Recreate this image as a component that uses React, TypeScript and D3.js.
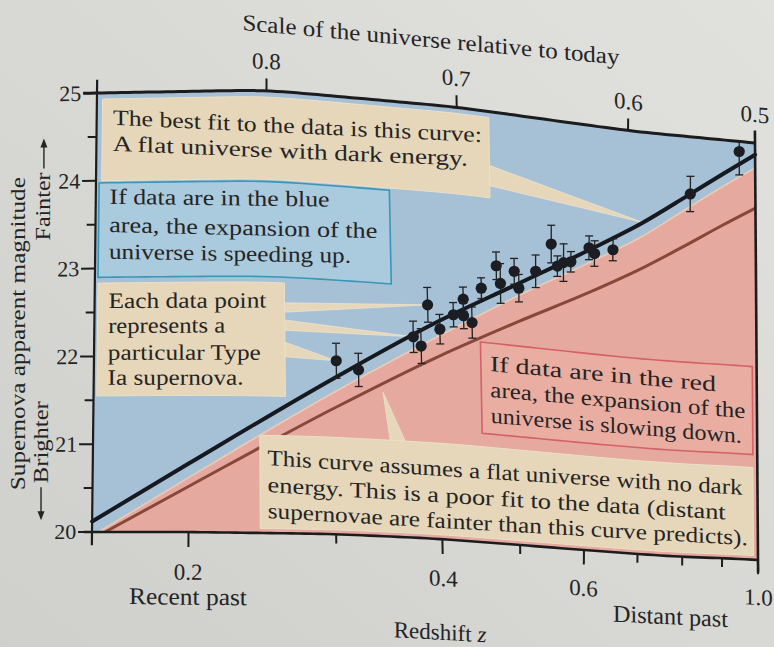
import React from "react";
import * as d3 from "d3";

// ---- model curves: apparent magnitude vs. redshift ----
const darkEnergyZ = [0.15, 0.2, 0.3, 0.4, 0.5, 0.6, 0.7, 0.8, 0.9, 1.0];
const darkEnergyMag = [20.12, 20.78, 21.78, 22.5, 23.04, 23.52, 23.93, 24.28, 24.59, 24.86];
const matterOnlyZ = [0.156, 0.2, 0.3, 0.4, 0.5, 0.6, 0.7, 0.8, 0.9, 1.0];
const matterOnlyMag = [20.0, 20.52, 21.44, 22.1, 22.6, 23.02, 23.39, 23.7, 23.98, 24.22];
// border between accelerating (blue) and decelerating (red) expansion
const coastingZ = [0.153, 0.2, 0.3, 0.4, 0.5, 0.6, 0.7, 0.8, 0.9, 1.0];
const coastingMag = [20.0, 20.62, 21.62, 22.33, 22.9, 23.37, 23.77, 24.13, 24.44, 24.7];

// ---- Type Ia supernovae ----
const snZ = [0.302, 0.321, 0.374, 0.382, 0.39, 0.403, 0.419, 0.431, 0.431, 0.441, 0.453, 0.472, 0.477,
  0.495, 0.501, 0.524, 0.546, 0.555, 0.564, 0.575, 0.603, 0.612, 0.643, 0.812, 0.95];
const snMag = [21.98, 21.89, 22.31, 22.21, 22.69, 22.42, 22.6, 22.79, 22.6, 22.53, 22.94, 23.22, 23.02,
  23.18, 22.99, 23.21, 23.55, 23.3, 23.35, 23.37, 23.56, 23.5, 23.57, 24.32, 24.88];
const snErr = [0.2, 0.19, 0.18, 0.2, 0.2, 0.17, 0.14, 0.14, 0.15, 0.18, 0.12, 0.16, 0.23,
  0.15, 0.16, 0.19, 0.22, 0.12, 0.22, 0.12, 0.14, 0.15, 0.13, 0.21, 0.28];

// ---- axes ----
const redshiftTicks = [0.2, 0.3, 0.4, 0.5, 0.6, 0.7, 0.8, 0.9, 1.0];
const redshiftLabels = ["0.2", "0.4", "0.6", "1.0"];
const scaleTicks = [0.8, 0.7, 0.6, 0.5];
const magTicks = [20, 20.5, 21, 21.5, 22, 22.5, 23, 23.5, 24, 24.5, 25];

type Pt = [number, number];

// data -> unit plot coordinates
const u = d3.scaleLog().domain([0.15, 1]).range([0, 1]);
const w = d3.scaleLinear().domain([25, 20]).range([0, 1]);

// the printed page is slightly tilted and bowed: frame edges on the page
function edge(domain: number[], range: number[]) {
  const lin = d3.scaleLinear().domain(domain).range(range);
  const smooth = d3.interpolateBasis(d3.range(0, 1.0001, 0.05).map((t) => lin(t)));
  return (t: number) => (t < 0 || t > 1 ? lin(t) : smooth(t));
}
const topU = [0, ...scaleTicks.map((a) => u(1 / a - 1))];
const botU = [0, ...redshiftTicks.map((z) => u(z))];
const topX = edge(topU, [97, 266, 456, 630, 755]);
const topY = edge(topU, [93, 90, 107, 131, 143]);
const botX = edge(botU, [92, 188, 336, 443, 520, 584, 638, 682, 722, 758]);
const botY = edge(botU, [532, 532, 534, 539, 545, 550, 554, 557, 558, 560]);

function warp(uu: number, ww: number): Pt {
  const xt = topX(uu), xb = botX(uu), yt = topY(uu), yb = botY(uu);
  return [xt + (xb - xt) * ww, yt + (yb - yt) * ww];
}
const P = (z: number, m: number): Pt => warp(u(z), w(m));

// short labels: follow the local slope of the page
function place(uu: number, ww: number) {
  const [x0, y0] = warp(uu, ww);
  const [x1, y1] = warp(uu + 0.01, ww);
  const ang = (Math.atan2(y1 - y0, x1 - x0) * 180) / Math.PI;
  return `translate(${x0.toFixed(2)},${y0.toFixed(2)}) skewY(${ang.toFixed(3)})`;
}

function uAtX(target: number, ww: number) {
  let lo = -0.6, hi = 1.6;
  for (let i = 0; i < 40; i++) {
    const mid = (lo + hi) / 2;
    if (warp(mid, ww)[0] < target) lo = mid;
    else hi = mid;
  }
  return (lo + hi) / 2;
}
// long lines: baseline runs along the chord of the page curve;
// k = 0 anchors the start at ua, 0.5 the middle. Text is then drawn start-anchored.
function chord(ua: number, ww: number, len: number, k = 0, wEnd = ww) {
  const xa = warp(ua, ww)[0];
  const s = warp(uAtX(xa - k * len, ww), ww);
  const e = warp(uAtX(xa + (1 - k) * len, wEnd), wEnd);
  const ang = (Math.atan2(e[1] - s[1], e[0] - s[0]) * 180) / Math.PI;
  return `translate(${s[0].toFixed(2)},${s[1].toFixed(2)}) skewY(${ang.toFixed(3)})`;
}

const smoothLine = d3.line<Pt>().curve(d3.curveMonotoneX);
const straight = d3.line<Pt>();
const seg = (a: Pt, b: Pt) => straight([a, b]) as string;

function strip(u0: number, u1: number, ww: number, n = 60): Pt[] {
  return d3.range(n + 1).map((i) => warp(u0 + ((u1 - u0) * i) / n, ww));
}
function quad(u0: number, u1: number, w0: number, w1: number) {
  const pts = [...strip(u0, u1, w0, 30), ...strip(u0, u1, w1, 30).reverse()];
  return straight(pts) + "Z";
}

const TAN = "#e6d7ba";

type Box = {
  u0: number; u1: number; w0: number; w1: number; fill: string; stroke?: string;
  tu: number; lines: [string, number, number][];
};
const boxes: Box[] = [
  { u0: 0.009, u1: 0.597, w0: 0.014, w1: 0.2, fill: TAN, tu: 0.026,
    lines: [["The best fit to the data is this curve:", 0.073, 369], ["A flat universe with dark energy.", 0.132, 355]] },
  { u0: 0.005, u1: 0.451, w0: 0.205, w1: 0.42, fill: "#aacade", stroke: "#3897b6", tu: 0.022,
    lines: [["If data are in the blue", 0.253, 220], ["area, the expansion of the", 0.317, 268], ["universe is speeding up.", 0.378, 242]] },
  { u0: 0.005, u1: 0.294, w0: 0.433, w1: 0.69, fill: TAN, tu: 0.022,
    lines: [["Each data point", 0.49, 158], ["represents a", 0.547, 117], ["particular Type", 0.608, 153], ["Ia supernova.", 0.665, 136]] },
  { u0: 0.58, u1: 0.993, w0: 0.537, w1: 0.748, fill: "#eaada2", stroke: "#d4616a", tu: 0.593,
    lines: [["If data are in the red", 0.602, 226], ["area, the expansion of the", 0.662, 255], ["universe is slowing down.", 0.722, 251]] },
  { u0: 0.256, u1: 0.993, w0: 0.779, w1: 0.99, fill: TAN, tu: 0.267,
    lines: [["This curve assumes a flat universe with no dark", 0.846, 475],
      ["energy. This is a poor fit to the data (distant", 0.907, 458],
      ["supernovae are fainter than this curve predicts).", 0.966, 480]] },
];

// callout pointers: base on a box edge (unit coords), tip at a data location
const pointers: { a: Pt; b: Pt; z: number; m: number }[] = [
  { a: [0.597, 0.125], b: [0.597, 0.172], z: 0.7, m: 23.93 },
  { a: [0.294, 0.478], b: [0.294, 0.499], z: snZ[4], m: snMag[4] },
  { a: [0.294, 0.517], b: [0.294, 0.54], z: snZ[2], m: snMag[2] },
  { a: [0.294, 0.567], b: [0.294, 0.6], z: snZ[0], m: snMag[0] },
  { a: [0.445, 0.781], b: [0.467, 0.781], z: 0.343, m: 21.65 },
];

export default function App() {
  const serif = "'Liberation Serif', 'Times New Roman', serif";
  const ink = "#242424";

  const plotArea = straight([...strip(0, 1, 0, 100), ...strip(0, 1, 1, 100).reverse()]) + "Z";
  const boundaryPts = coastingZ.map((z, i) => P(z, coastingMag[i]));
  const uStart = u(coastingZ[0]);
  const backPts = strip(1, uStart, 1, 80);
  const redArea = smoothLine(boundaryPts) + backPts.map((p) => `L${p[0]},${p[1]}`).join("") + "Z";
  const boundaryPath = smoothLine(boundaryPts) as string;
  const darkPath = smoothLine(darkEnergyZ.map((z, i) => P(z, darkEnergyMag[i]))) as string;
  const matterPath = smoothLine(matterOnlyZ.map((z, i) => P(z, matterOnlyMag[i]))) as string;

  const brighter = warp(-0.072, 0.795);
  const fainter = warp(-0.072, 0.257);
  const yTitle = warp(-0.11, 0.547);

  return (
    <svg width={774} height={647} viewBox="0 0 774 647"
      style={{ position: "absolute", left: 0, top: 0, display: "block" }} fontFamily={serif}>
      <defs>
        <linearGradient id="paper" x1="0" y1="1" x2="1" y2="0">
          <stop offset="0" stopColor="#cfcfcb" />
          <stop offset="1" stopColor="#e1e1de" />
        </linearGradient>
      </defs>
      <rect width={774} height={647} fill="url(#paper)" />

      {/* regions */}
      <path d={plotArea} fill="#a6c1d6" />
      <path d={redArea} fill="#e5a99f" />
      <path d={boundaryPath} fill="none" stroke="#ebcbb4" strokeWidth={1.6} />
      <path d={matterPath} fill="none" stroke="#87483a" strokeWidth={3} />

      {/* callouts */}
      {pointers.map((p, i) => {
        const tip = P(p.z, p.m);
        return (
          <path key={"ptr" + i} d={straight([warp(p.a[0], p.a[1]), tip, warp(p.b[0], p.b[1])]) + "Z"}
            fill={TAN} stroke="#ede2cc" strokeWidth={0.8} />
        );
      })}
      {boxes.map((b, i) => (
        <g key={"box" + i}>
          <path d={quad(b.u0, b.u1, b.w0, b.w1)} fill={b.fill}
            stroke={b.stroke ?? "#ebe0c9"} strokeWidth={b.stroke ? 1.6 : 1} />
          {b.lines.map(([t, lw, len], j) => (
            <text key={j} transform={chord(b.tu, lw, len)} fontSize={22} fill={ink}
              textLength={len} lengthAdjust="spacingAndGlyphs">{t}</text>
          ))}
        </g>
      ))}

      {/* best fit */}
      <path d={darkPath} fill="none" stroke="#161a20" strokeWidth={4} strokeLinecap="round" />

      {/* supernovae */}
      {snZ.map((z, i) => {
        const lo = P(z, snMag[i] - snErr[i]);
        const hi = P(z, Math.min(25, snMag[i] + snErr[i]));
        const c = P(z, snMag[i]);
        return (
          <g key={"sn" + i} stroke="#222" strokeWidth={1.3}>
            <path d={seg(lo, hi)} />
            <path d={seg([lo[0] - 4, lo[1]], [lo[0] + 4, lo[1]])} />
            {snMag[i] + snErr[i] < 25 && <path d={seg([hi[0] - 4, hi[1]], [hi[0] + 4, hi[1]])} />}
            <circle cx={c[0]} cy={c[1]} r={5.6} fill="#1b1d22" stroke="none" />
          </g>
        );
      })}

      {/* frame */}
      <g stroke="#1c1c1e" fill="none">
        <path d={straight(strip(-0.022, 1, 0, 100)) as string} strokeWidth={3} />
        <path d={straight(strip(-0.013, 1, 1, 100)) as string} strokeWidth={2.6} />
        <path d={seg(warp(0, -0.03), warp(0, 1.03))} strokeWidth={2.2} />
        <path d={seg(warp(1, -0.03), warp(1, 1.03))} strokeWidth={2.6} />
        {magTicks.map((m) => (
          <path key={"mt" + m} d={seg(warp(Number.isInteger(m) ? -0.022 : -0.014, w(m)), warp(0, w(m)))} strokeWidth={2} />
        ))}
        {redshiftTicks.map((z) => {
          const major = redshiftLabels.includes(z.toFixed(1));
          return <path key={"zt" + z} d={seg(warp(u(z), 1), warp(u(z), major ? 1.034 : 1.021))} strokeWidth={2} />;
        })}
        {scaleTicks.slice(0, 3).map((a) => (
          <path key={"st" + a} d={seg(warp(u(1 / a - 1), 0), warp(u(1 / a - 1), -0.028))} strokeWidth={2} />
        ))}
      </g>

      {/* tick labels and titles */}
      <g fill={ink}>
        {magTicks.filter((m) => Number.isInteger(m)).map((m) => (
          <text key={"ml" + m} transform={place(-0.025, w(m))} fontSize={22} textAnchor="end" dy="0.34em">{m}</text>
        ))}
        {redshiftLabels.map((s) => (
          <text key={"zl" + s} transform={place(u(+s), 1.108)} fontSize={23} textAnchor="middle">{s}</text>
        ))}
        {scaleTicks.map((a) => (
          <text key={"sl" + a} transform={place(u(1 / a - 1), -0.05)} fontSize={23} textAnchor="middle">{a.toFixed(1)}</text>
        ))}
        <text transform={chord(0.518, -0.137, 377, 0.5, -0.153)} fontSize={23} textLength={377}
          lengthAdjust="spacingAndGlyphs">Scale of the universe relative to today</text>
        <text transform={chord(u(0.2), 1.164, 118, 0.5)} fontSize={24} textLength={118}
          lengthAdjust="spacingAndGlyphs">Recent past</text>
        <text transform={chord(0.865, 1.164, 115, 0.5)} fontSize={24} textLength={115}
          lengthAdjust="spacingAndGlyphs">Distant past</text>
        <text transform={place(0.51, 1.232)} fontSize={23} textAnchor="middle">
          Redshift <tspan fontStyle="italic">z</tspan>
        </text>

        <text transform={`translate(${yTitle[0]},${yTitle[1]}) rotate(-90)`} fontSize={22} textAnchor="middle"
          textLength={313} lengthAdjust="spacingAndGlyphs">Supernova apparent magnitude</text>
        <g transform={`translate(${brighter[0]},${brighter[1]}) rotate(-90)`}>
          <text fontSize={22} textAnchor="middle" textLength={82} lengthAdjust="spacingAndGlyphs">Brighter</text>
          <path d="M-45,-6.5H-74" stroke={ink} strokeWidth={1.4} />
          <path d="M-78,-6.5L-69,-10L-69,-3Z" />
        </g>
        <g transform={`translate(${fainter[0]},${fainter[1]}) rotate(-90)`}>
          <text fontSize={22} textAnchor="middle" textLength={68} lengthAdjust="spacingAndGlyphs">Fainter</text>
          <path d="M38,-6.5H64" stroke={ink} strokeWidth={1.4} />
          <path d="M68,-6.5L59,-10L59,-3Z" />
        </g>
      </g>
    </svg>
  );
}
